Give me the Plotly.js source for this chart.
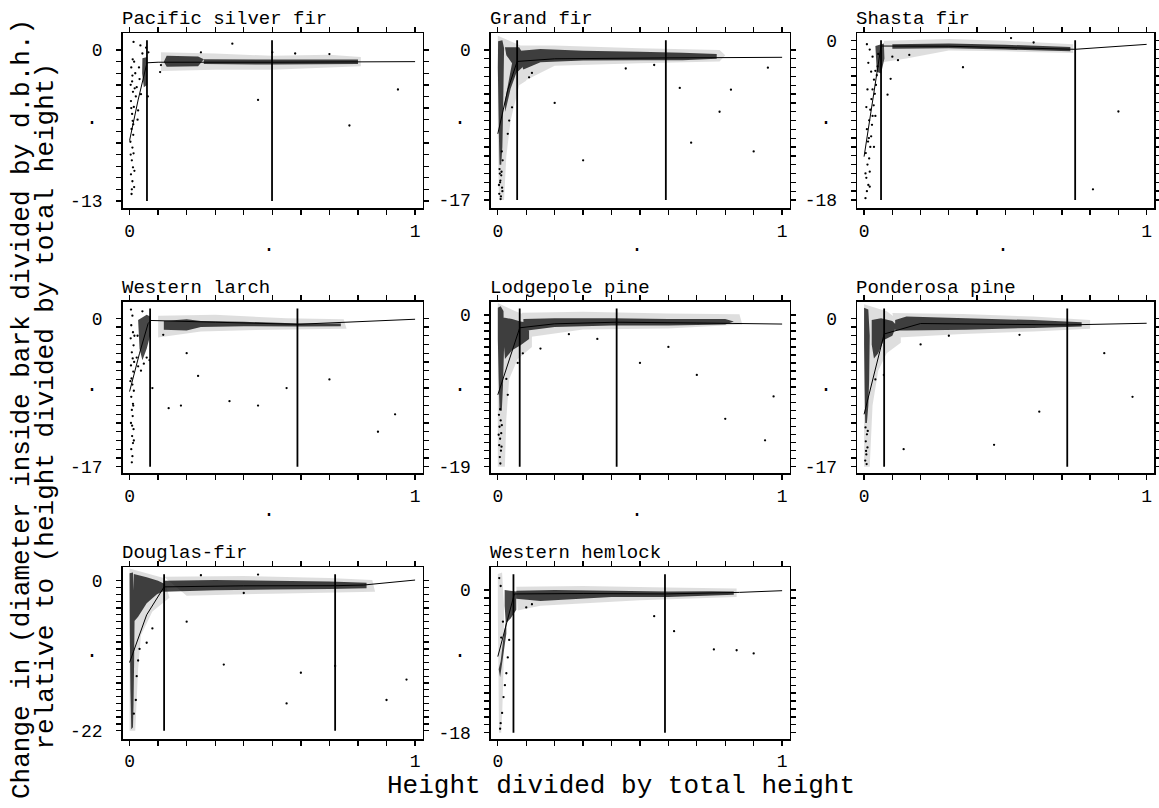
<!DOCTYPE html>
<html><head><meta charset="utf-8">
<script src="https://cdn.plot.ly/plotly-3.0.1.min.js"></script>
<style>html,body{margin:0;padding:0;background:#fff}</style>
</head><body><div id="chart" style="width:1159px;height:808px"></div>
<script>
// ---------------- data ----------------
const species = ["Pacific silver fir","Grand fir","Shasta fir","Western larch","Lodgepole pine","Ponderosa pine","Douglas-fir","Western hemlock"];
const yBottomLabels = [-13,-17,-18,-17,-19,-17,-22,-18];
const xTickLabels = ["0","1"];
const joinPoints = [[0.061,0.499],[0.068,0.591],[0.060,0.747],[0.072,0.588],[0.077,0.418],[0.071,0.719],[0.121,0.720],[0.055,0.588]];

// fitted segmented curves
const pacificCurveX = [0,0.03,0.061,0.1,0.5,1.0];
const pacificCurveY = [-7.8,-4.3,-1.1,-1.05,-1.05,-1.0];
const grandCurveX = [0,0.035,0.068,0.2,0.591,1.0];
const grandCurveY = [-9.5,-4.5,-1.3,-1.0,-0.9,-0.83];
const shastaCurveX = [0,0.03,0.06,0.3,0.747,1.0];
const shastaCurveY = [-13.1,-7.0,-0.6,-0.62,-0.97,-0.41];
const larchCurveX = [0,0.035,0.065,0.075,0.3,0.588,1.0];
const larchCurveY = [-8.4,-4.0,-0.6,-0.25,-0.45,-0.69,-0.11];
const lodgeCurveX = [0,0.077,0.2,0.418,0.7,1.0];
const lodgeCurveY = [-10,-1.6,-1.1,-0.9,-1.0,-1.13];
const pondCurveX = [0,0.071,0.2,0.719,1.0];
const pondCurveY = [-11,-1.8,-0.6,-0.76,-0.57];
const dougCurveX = [0,0.06,0.121,0.4,0.72,0.82,1.0];
const dougCurveY = [-12,-5,-0.9,-0.75,-0.73,-0.63,0.1];
const hemCurveX = [0,0.05,0.058,0.3,0.588,0.85,1.0];
const hemCurveY = [-8.4,-1.3,-0.5,-0.45,-0.5,-0.3,-0.09];

// envelopes of the point clouds (light = sparse, core = dense)
const pacificLightX = [0.11,0.3,0.5,0.7,0.81,0.81,0.5,0.3,0.11];
const pacificLightY = [-0.2,-0.3,-0.5,-0.4,-0.6,-1.4,-1.7,-1.7,-1.8];
const pacificCoreX = [0.13,0.24,0.26,0.24,0.13,0.12,null,0.26,0.5,0.8,0.8,0.5,0.26,null,0.045,0.062,0.062,0.05,0.044];
const pacificCoreY = [-0.5,-0.55,-0.8,-1.4,-1.45,-1.0,null,-0.8,-0.82,-0.82,-1.2,-1.25,-1.2,null,-0.7,-0.6,-3.0,-3.2,-2.0];

const grandLightX = [0.0,0.08,0.1,0.1,0.075,0.045,0.03,0.022,0.004,0.0,null,0.076,0.2,0.5,0.78,0.8,0.78,0.5,0.2,0.1,0.085];
const grandLightY = [1.6,0.5,-0.5,-3.5,-4.0,-8,-12,-17,-17,-10,null,0.5,0.5,0.2,0.0,-0.6,-1.3,-1.5,-1.8,-3.4,-3.0];
const grandCoreX = [0.001,0.016,0.022,0.02,0.018,0.016,0.012,0.006,0.004,0.002,0.0,null,0.025,0.075,0.09,0.085,0.065,0.045,0.026,0.024,0.04,0.05,0.03,null,0.08,0.15,0.3,0.5,0.65,0.77,0.77,0.65,0.5,0.3,0.15,0.09,0.08];
const grandCoreY = [1.0,1.1,0.2,-4,-8,-11,-13,-13,-10,-6,-2,null,0.3,0.3,-0.5,-2.0,-2.6,-4.4,-7.0,-6.0,-3.2,-1.5,-0.6,null,-0.1,0.1,-0.1,-0.2,-0.3,-0.45,-1.0,-1.15,-1.15,-1.2,-1.4,-2.2,-1.5];

const shastaLightX = [0.07,0.3,0.5,0.74,0.74,0.5,0.3,0.15,0.07];
const shastaLightY = [0.0,0.2,0.0,-0.4,-1.4,-1.2,-1.1,-2.0,-2.4];
const shastaCoreX = [0.1,0.3,0.5,0.73,0.73,0.5,0.3,0.1,null,0.04,0.07,0.072,0.06,0.045];
const shastaCoreY = [-0.4,-0.3,-0.45,-0.7,-1.2,-1.0,-0.85,-0.9,null,-0.6,-0.3,-2.0,-3.7,-3.5];

const larchLightX = [0.1,0.3,0.55,0.75,0.76,0.5,0.25,0.1];
const larchLightY = [0.3,0.4,0.0,-0.1,-1.2,-1.3,-1.5,-2.2];
const larchCoreX = [0.03,0.06,0.072,0.072,0.06,0.045,0.035,null,0.12,0.2,0.25,0.4,0.6,0.74,0.74,0.6,0.4,0.25,0.2,0.12];
const larchCoreY = [-0.2,0.4,0.2,-2.0,-3.5,-4.8,-3.5,null,-0.3,-0.1,-0.3,-0.4,-0.6,-0.6,-0.9,-0.95,-0.9,-1.0,-1.4,-1.3];

const lodgeLightX = [0.0,0.06,0.12,0.12,0.07,0.04,0.03,0.025,0.0,null,0.085,0.3,0.6,0.85,0.86,0.6,0.3,0.1];
const lodgeLightY = [1.5,0.5,-0.3,-4.0,-5.5,-8,-13,-19,-19,null,0.3,0.4,0.2,0.1,-1.2,-1.7,-1.8,-2.8];
const lodgeCoreX = [0.0,0.01,0.02,0.022,0.018,0.014,0.006,0.003,0.0,null,0.02,0.05,0.08,0.11,0.11,0.08,0.05,0.025,0.02,null,0.09,0.2,0.4,0.6,0.8,0.83,0.8,0.6,0.4,0.2,0.09];
const lodgeCoreY = [0.9,1.1,0.5,-4,-9,-12,-12,-8,-3,null,-0.3,-0.5,-0.8,-1.0,-3.0,-3.8,-4.4,-5.5,-3,null,-0.5,-0.4,-0.4,-0.5,-0.5,-0.8,-1.2,-1.3,-1.3,-1.5,-2.0];

const pondLightX = [0.0,0.08,0.13,0.13,0.08,0.05,0.03,0.02,0.0,null,0.1,0.35,0.6,0.8,0.8,0.6,0.35,0.12];
const pondLightY = [1.6,0.8,-0.4,-2.8,-4.0,-6,-10,-17,-17,null,0.6,0.5,0.2,-0.2,-1.2,-1.5,-1.8,-2.2];
const pondCoreX = [0.0,0.015,0.02,0.018,0.015,0.01,0.004,0.002,0.0,null,0.027,0.06,0.1,0.115,0.1,0.07,0.05,0.035,0.027,null,0.11,0.15,0.36,0.6,0.77,0.77,0.6,0.36,0.15,0.11];
const pondCoreY = [1.2,1.0,-2,-7,-10,-12,-12,-8,-3,null,-0.2,0.0,-0.3,-0.8,-2.0,-2.5,-4.0,-4.6,-3,null,-0.2,0.2,0.0,-0.2,-0.45,-0.95,-1.1,-1.3,-1.4,-1.4];

const dougLightX = [0.0,0.05,0.12,0.14,0.08,0.04,0.03,0.02,0.0,null,0.12,0.4,0.7,0.85,0.86,0.5,0.2];
const dougLightY = [1.8,1.2,0.4,-2.5,-4.5,-8,-13,-22,-22,null,0.6,0.7,0.4,0.1,-1.6,-1.9,-2.2];
const dougCoreX = [0.0,0.012,0.018,0.016,0.014,0.012,0.006,0.003,0.001,null,0.015,0.06,0.1,0.12,0.12,0.096,0.06,0.03,0.015,null,0.12,0.3,0.5,0.7,0.83,0.83,0.7,0.5,0.3,0.12];
const dougCoreY = [1.1,1.2,-4,-12,-18,-21.5,-21.8,-16,-8,null,1.0,0.5,0.0,-0.4,-1.5,-2.0,-3.3,-5.3,-6.0,null,0.0,0.1,0.0,-0.1,-0.3,-1.1,-1.2,-1.3,-1.4,-1.6];

const hemLightX = [0.0,0.015,0.022,0.02,0.016,0.012,0.004,0.002,0.0,null,0.065,0.3,0.6,0.84,0.84,0.5,0.15,0.07];
const hemLightY = [2.0,2.2,-2,-10,-15,-18,-18,-10,-3,null,0.4,0.5,0.3,0.2,-0.9,-1.3,-2.0,-2.6];
const hemCoreX = [0.003,0.01,0.02,0.03,0.03,0.018,0.008,null,0.024,0.065,0.065,0.045,0.028,0.024,null,0.065,0.2,0.4,0.6,0.75,0.83,0.83,0.6,0.4,0.15,0.065];
const hemCoreY = [-10,-9,-6,-3.5,-5.5,-8.5,-11,null,0.0,-0.2,-2.5,-3.6,-4.2,-2,null,-0.1,0.0,-0.1,-0.2,-0.15,-0.2,-0.6,-0.9,-0.9,-1.4,-1.1];

// individual (sparse) points
const pacificDotsX = [0.006,0.01,0.004,0.012,0.005,0.015,0.009,0.011,0.007,0.013,0.003,0.01,0.014,0.008,0.012,0.005,0.01,0.016,0.007,0.011,0.014,0.009,0.006,0.013,0.004,0.017,0.008,0.018,0.02,0.016,0.022,0.025,0.03,0.035,0.04,0.045,0.028,0.033,0.038,0.058,0.064,0.066,0.107,0.11,0.36,0.58,0.45,0.5,0.7,0.77,0.94,0.25];
const pacificDotsY = [-1.5,-2.2,-3.0,-3.6,-4.4,-4.9,-5.5,-6.1,-6.8,-7.3,-7.9,-8.4,-8.9,-9.5,-10.1,-10.7,-11.3,-11.8,-12.4,-0.8,0.7,-2.7,-5.0,-6.4,-9.0,-10.4,-12.0,-3.3,-2.0,-1.0,-4.0,-3.2,-5.2,-2.5,-3.8,-0.3,-6.0,-1.5,0.4,0.2,-4.0,-0.2,-1.9,-1.3,0.55,-0.3,-4.3,-0.2,-0.35,-6.5,-3.4,-0.2];
const grandDotsX = [0.006,0.012,0.008,0.015,0.005,0.01,0.013,0.009,0.016,0.004,0.011,0.007,0.017,0.014,0.55,0.64,0.68,0.78,0.9,0.3,0.82,0.2,0.45,0.035,0.04,0.05,0.95,0.12,0.11];
const grandDotsY = [-13.5,-14.2,-15.0,-15.6,-16.3,-16.9,-13.8,-14.8,-16.0,-15.3,-16.6,-14.0,-12.5,-11.5,-1.7,-4.3,-10.5,-7.0,-11.5,-12.5,-4.5,-6.0,-2.1,-9.5,-8.0,-6.5,-2.0,-2.6,-3.1];
const shastaDotsX = [0.005,0.01,0.015,0.008,0.02,0.012,0.018,0.006,0.022,0.014,0.025,0.01,0.028,0.018,0.03,0.022,0.034,0.026,0.038,0.03,0.042,0.035,0.045,0.04,0.048,0.02,0.01,0.015,0.025,0.03,0.05,0.012,0.008,0.005,0.02,0.017,0.04,0.035,0.083,0.094,0.81,0.12,0.16,0.35,0.6,0.52,0.9,0.1];
const shastaDotsY = [-17.8,-17.0,-16.3,-15.5,-14.8,-14.0,-13.3,-12.7,-12.0,-11.4,-10.8,-10.0,-9.5,-9.0,-8.5,-7.8,-7.3,-6.6,-6.0,-5.5,-5.0,-4.4,-3.9,-3.4,-2.9,-1.0,-0.4,-2.5,-3.5,-1.8,-1.5,-5.5,-7.5,-15.0,-16.5,-11.0,-8.5,-12.0,-6.1,-4.3,-16.8,-2.2,-1.6,-3.0,-0.2,0.3,-8.0,-1.8];
const larchDotsX = [0.005,0.01,0.006,0.012,0.004,0.014,0.008,0.011,0.005,0.013,0.007,0.01,0.015,0.006,0.012,0.008,0.011,0.005,0.014,0.009,0.012,0.006,0.01,0.008,0.016,0.003,0.013,0.017,0.009,0.015,0.025,0.03,0.04,0.05,0.06,0.07,0.028,0.045,0.118,0.137,0.18,0.24,0.35,0.45,0.55,0.7,0.87,0.93,0.08,0.2];
const larchDotsY = [1.0,0.3,-0.8,-1.6,-2.3,-3.1,-3.9,-4.6,-5.4,-6.1,-6.9,-7.6,-8.3,-9.0,-9.8,-10.5,-11.2,-12.0,-12.7,-13.5,-14.3,-15.0,-15.8,-16.5,-5.0,-7.2,-10.0,-2.0,-12.3,-14.0,-4.5,-5.5,-6.0,-5.2,-4.5,-4.8,-2.0,0.8,-1.9,-10.3,-10.0,-6.6,-9.5,-10.0,-8.0,-7.0,-13.0,-11.0,-8.0,-4.0];
const lodgeDotsX = [0.004,0.01,0.006,0.012,0.008,0.005,0.011,0.007,0.009,0.014,0.003,0.013,0.008,0.088,0.15,0.07,0.035,0.03,0.7,0.97,0.94,0.5,0.35,0.6,0.25,0.8];
const lodgeDotsY = [-12.5,-13.2,-14.0,-14.8,-15.5,-16.3,-17.0,-17.8,-18.6,-13.8,-15.0,-16.5,-11.8,-4.8,-4.2,-6.0,-10.0,-8.0,-7.5,-10.2,-15.7,-6.0,-3.0,-4.0,-2.4,-13];
const pondDotsX = [0.005,0.01,0.006,0.012,0.008,0.004,0.009,0.013,0.007,0.62,0.46,0.85,0.95,0.2,0.3,0.04,0.07,0.55,0.14];
const pondDotsY = [-12.5,-13.3,-14.1,-14.8,-15.6,-16.3,-16.7,-12.9,-15.2,-10.7,-14.5,-4.0,-9.0,-3.0,-2.0,-7.0,-6.5,-1.9,-15.0];
const dougDotsX = [0.03,0.06,0.33,0.4,0.6,0.72,0.9,0.97,0.08,0.035,0.025,0.022,0.015,0.2,0.55,0.25,0.45];
const dougDotsY = [-11.7,-9.1,-12.3,-1.8,-13.5,-12.5,-17.5,-14.5,-7.0,-10.0,-14.0,-17.5,-19.5,-6.0,-18.0,0.8,0.9];
const hemDotsX = [0.04,0.035,0.03,0.025,0.02,0.015,0.01,0.008,0.018,0.012,0.62,0.76,0.84,0.55,0.9,0.12,0.1,0.005,0.01];
const hemDotsY = [-6.3,-8.5,-10.5,-12.0,-13.5,-15.5,-16.8,-17.5,-4.0,-6.0,-5.2,-7.5,-7.6,-3.3,-8.0,-1.8,-2.2,1.5,0.5];

// ---------------- layout configuration ----------------
const W = 1159, H = 808;
const FONT = "Liberation Mono, DejaVu Sans Mono, monospace";
const colPx = [[122.7,422.5],[491,789.5],[857.3,1154]];
const rowPx = [[33.3,208.3],[301.7,473.3],[567.3,739]];
const xRange = [-0.024,1.026];
const yRanges = [[-13.63,1.44],[-17.94,1.89],[-18.94,0.84],[-17.76,1.90],[-19.83,1.67],[-17.76,1.90],[-23.22,1.97],[-18.79,2.86]];

const panels = [
  {cx:pacificCurveX,cy:pacificCurveY,lx:pacificLightX,ly:pacificLightY,kx:pacificCoreX,ky:pacificCoreY,dx:pacificDotsX,dy:pacificDotsY},
  {cx:grandCurveX,cy:grandCurveY,lx:grandLightX,ly:grandLightY,kx:grandCoreX,ky:grandCoreY,dx:grandDotsX,dy:grandDotsY},
  {cx:shastaCurveX,cy:shastaCurveY,lx:shastaLightX,ly:shastaLightY,kx:shastaCoreX,ky:shastaCoreY,dx:shastaDotsX,dy:shastaDotsY},
  {cx:larchCurveX,cy:larchCurveY,lx:larchLightX,ly:larchLightY,kx:larchCoreX,ky:larchCoreY,dx:larchDotsX,dy:larchDotsY},
  {cx:lodgeCurveX,cy:lodgeCurveY,lx:lodgeLightX,ly:lodgeLightY,kx:lodgeCoreX,ky:lodgeCoreY,dx:lodgeDotsX,dy:lodgeDotsY},
  {cx:pondCurveX,cy:pondCurveY,lx:pondLightX,ly:pondLightY,kx:pondCoreX,ky:pondCoreY,dx:pondDotsX,dy:pondDotsY},
  {cx:dougCurveX,cy:dougCurveY,lx:dougLightX,ly:dougLightY,kx:dougCoreX,ky:dougCoreY,dx:dougDotsX,dy:dougDotsY},
  {cx:hemCurveX,cy:hemCurveY,lx:hemLightX,ly:hemLightY,kx:hemCoreX,ky:hemCoreY,dx:hemDotsX,dy:hemDotsY}
];

const axisCommon = {showline:true,linecolor:"#000",linewidth:1.6,mirror:"ticks",ticks:"outside",ticklen:5,
  tickwidth:1.3,tickcolor:"#000",showgrid:false,zeroline:false,fixedrange:true,
  tickfont:{family:FONT,size:18,color:"#000"}};

const xTickVals = [], xTickText = [];
for (let k = 0; k <= 10; k++) {
  xTickVals.push(k/10);
  xTickText.push(k === 0 ? xTickLabels[0] : (k === 10 ? xTickLabels[1] : ""));
}

const traces = [];
const layout = {width:W,height:H,margin:{l:0,r:0,t:0,b:0},showlegend:false,
  paper_bgcolor:"#fff",plot_bgcolor:"#fff",font:{family:FONT,color:"#000"},annotations:[]};

panels.forEach((p,i) => {
  const s = i === 0 ? "" : String(i+1);
  const xa = "x"+s, ya = "y"+s;
  const col = i % 3, row = Math.floor(i/3);
  const yb = yBottomLabels[i], yr = yRanges[i];
  const yVals = [], yText = [];
  for (let v = yb; v <= 0; v++) { yVals.push(v); yText.push(v === 0 ? "0" : (v === yb ? String(yb) : "")); }
  layout["xaxis"+s] = Object.assign({}, axisCommon, {domain:[colPx[col][0]/W, colPx[col][1]/W], range:xRange,
    anchor:ya, tickmode:"array", tickvals:xTickVals, ticktext:xTickText, tickangle:0});
  layout["yaxis"+s] = Object.assign({}, axisCommon, {domain:[1-rowPx[row][1]/H, 1-rowPx[row][0]/H], range:yr,
    anchor:xa, tickmode:"array", tickvals:yVals, ticktext:yText, ticklabelstandoff:10});

  traces.push({type:"scatter",mode:"none",x:p.lx,y:p.ly,xaxis:xa,yaxis:ya,fill:"toself",
    fillcolor:"rgba(0,0,0,0.13)",hoverinfo:"skip"});
  traces.push({type:"scatter",mode:"none",x:p.kx,y:p.ky,xaxis:xa,yaxis:ya,fill:"toself",
    fillcolor:"rgba(0,0,0,0.72)",hoverinfo:"skip"});
  traces.push({type:"scatter",mode:"markers",x:p.dx,y:p.dy,xaxis:xa,yaxis:ya,
    marker:{size:2.3,color:"#000"},hoverinfo:"skip"});
  traces.push({type:"scatter",mode:"lines",x:p.cx,y:p.cy,xaxis:xa,yaxis:ya,
    line:{color:"#000",width:1},hoverinfo:"skip"});
  const top = yr[1] - 0.04*(yr[1]-yr[0]);
  const j = joinPoints[i];
  traces.push({type:"scatter",mode:"lines",x:[j[0],j[0],null,j[1],j[1]],y:[top,yb,null,top,yb],
    xaxis:xa,yaxis:ya,line:{color:"#000",width:1.8},hoverinfo:"skip"});

  layout.annotations.push({xref:xa+" domain",yref:ya+" domain",x:0,y:1,xanchor:"left",yanchor:"bottom",
    xshift:-3,yshift:1,text:species[i],showarrow:false,font:{family:FONT,size:19,color:"#000"}});
  layout.annotations.push({xref:xa+" domain",yref:ya+" domain",x:0,y:0.5,xanchor:"center",yanchor:"middle",
    xshift:-31,yshift:2,text:".",showarrow:false,font:{family:FONT,size:20,color:"#000"}});
  if (i < 5) {
    layout.annotations.push({xref:xa,yref:ya+" domain",x:0.49,y:0,xanchor:"center",yanchor:"middle",
      yshift:-37,text:".",showarrow:false,font:{family:FONT,size:20,color:"#000"}});
  }
});

layout.annotations.push({xref:"paper",yref:"paper",x:621/W,y:1-786/H,xanchor:"center",yanchor:"middle",
  text:"Height divided by total height",showarrow:false,font:{family:FONT,size:26,color:"#000"}});
layout.annotations.push({xref:"paper",yref:"paper",x:22/W,y:1-409/H,xanchor:"center",yanchor:"middle",textangle:-90,
  text:"Change in (diameter inside bark divided by d.b.h.)",showarrow:false,font:{family:FONT,size:26,color:"#000"}});
layout.annotations.push({xref:"paper",yref:"paper",x:45.5/W,y:1-406/H,xanchor:"center",yanchor:"middle",textangle:-90,
  text:"relative to (height divided by total height)",showarrow:false,font:{family:FONT,size:26,color:"#000"}});

Plotly.newPlot("chart", traces, layout, {staticPlot:true,displayModeBar:false});
</script>
</body></html>
